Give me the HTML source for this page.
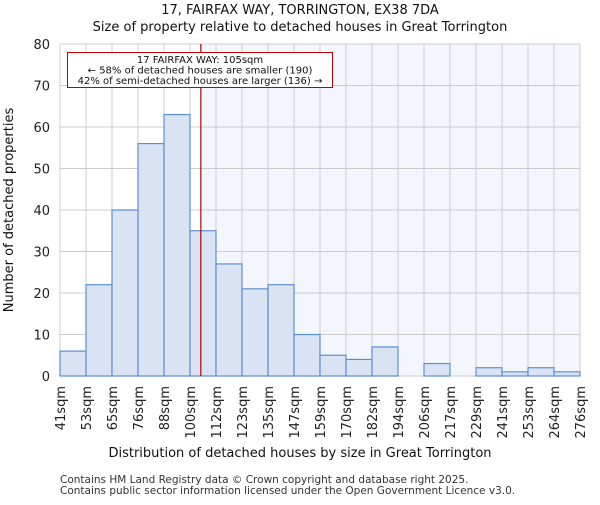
<!DOCTYPE html>
<html><head><meta charset="utf-8"><style>
body{margin:0;background:#fff;font-family:"Liberation Sans","DejaVu Sans",sans-serif}
</style></head><body>
<svg id="c" width="600" height="500" xmlns="http://www.w3.org/2000/svg" font-family="DejaVu Sans, Liberation Sans, sans-serif"></svg>
<script>
const labels=["41sqm","53sqm","65sqm","76sqm","88sqm","100sqm","112sqm","123sqm","135sqm","147sqm","159sqm","170sqm","182sqm","194sqm","206sqm","217sqm","229sqm","241sqm","253sqm","264sqm","276sqm"];
const edges=[41,53,65,76,88,100,112,123,135,147,159,170,182,194,206,217,229,241,253,264,276];
const counts=[6,22,40,56,63,35,27,21,22,10,5,4,7,0,3,0,2,1,2,1];
const yTicks=[0,10,20,30,40,50,60,70,80];
const propertySize=105;
const X0=60,X1=580,Y0=376,Y1=44,NB=counts.length;
const bw=(X1-X0)/NB;
function xIdx(i){return X0+i*bw;}
function xVal(v){for(let i=0;i<edges.length-1;i++){if(v<=edges[i+1])return xIdx(i)+bw*(v-edges[i])/(edges[i+1]-edges[i]);}return X1;}
function y(v){return Y0-(Y0-Y1)*v/80;}
const s=document.getElementById('c');const NS="http://www.w3.org/2000/svg";
function el(t,a,p){const e=document.createElementNS(NS,t);for(const k in a)e.setAttribute(k,a[k]);(p||s).appendChild(e);return e;}
const lx=xVal(propertySize);
let e;
e=el('rect',{x:lx,y:Y1,width:X1-lx,height:Y0-Y1,fill:'#f3f6fd'});


for(let i=0;i<=NB;i++){e=el('line',{x1:xIdx(i),x2:xIdx(i),y1:Y1,y2:Y0,stroke:'#cccccc','stroke-width':1});}
yTicks.forEach(t=>{e=el('line',{x1:X0,x2:X1,y1:y(t),y2:y(t),stroke:'#cccccc','stroke-width':1});
const tx=el('text',{x:X0-10,y:y(t)+5,'text-anchor':'end','font-size':13,fill:'#222'});tx.textContent=t;});
counts.forEach((c,i)=>{if(c<=0)return;e=el('rect',{x:xIdx(i),y:y(c),width:bw,height:Y0-y(c),fill:'#dae3f3',stroke:'#5b8fd6','stroke-width':1.2});});
labels.forEach((l,i)=>{const tx=el('text',{transform:`translate(${xIdx(i)+5},${Y0+10}) rotate(-90)`,'text-anchor':'end','font-size':13,fill:'#222'});tx.textContent=l;});
e=el('line',{x1:lx,x2:lx,y1:Y1,y2:Y0,stroke:'#b00000','stroke-width':1.2});
e=el('rect',{x:67.5,y:52.5,width:265,height:35,fill:'#fff',stroke:'#c00000','stroke-width':1});
[["17 FAIRFAX WAY: 105sqm",63],["← 58% of detached houses are smaller (190)",73.5],["42% of semi-detached houses are larger (136) →",84]].forEach(([t,yy])=>{const tx=el('text',{x:200,y:yy,'text-anchor':'middle','font-size':10,fill:'#111'});tx.textContent=t;});
[["17, FAIRFAX WAY, TORRINGTON, EX38 7DA",14,'title-line-1'],["Size of property relative to detached houses in Great Torrington",31,'title-line-2']].forEach(([t,yy,n])=>{const tx=el('text',{x:300,y:yy,'text-anchor':'middle','font-size':13,fill:'#111'});tx.textContent=t;});
e=el('text',{x:300,y:457,'text-anchor':'middle','font-size':13,fill:'#111'});e.textContent="Distribution of detached houses by size in Great Torrington";
e=el('text',{transform:'translate(13,210) rotate(-90)','text-anchor':'middle','font-size':13,fill:'#111'});e.textContent="Number of detached properties";
e=el('text',{x:60,y:483,'font-size':10.5,fill:'#333'});e.textContent="Contains HM Land Registry data © Crown copyright and database right 2025.";
e=el('text',{x:60,y:494,'font-size':10.5,fill:'#333'});e.textContent="Contains public sector information licensed under the Open Government Licence v3.0.";
</script>
</body></html>
